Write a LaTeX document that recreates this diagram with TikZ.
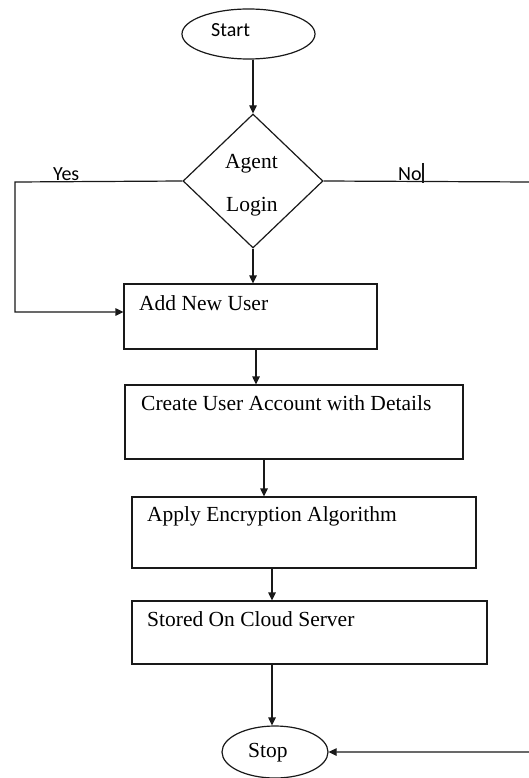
\documentclass[tikz,border=0pt]{standalone}
\usepackage{fontspec}
\setmainfont{Liberation Serif}
\newfontfamily\carlitofont{Carlito}
\usetikzlibrary{shapes.geometric,arrows.meta}
\begin{document}
\begin{tikzpicture}[x=1pt,y=-1pt,
  line/.style={line width=1.2pt, draw=black!90},
  arr/.style={line, -{Triangle[length=8pt,width=7.5pt]}},
  boxnode/.style={line, rectangle, inner sep=0pt},
  ovalnode/.style={line, ellipse, inner sep=0pt},
  dianode/.style={line, diamond, inner sep=0pt},
  serif/.style={font=\fontsize{21.5}{24}\selectfont, inner sep=0pt, anchor=base west},
  sans/.style={font=\carlitofont\fontsize{20}{24}\selectfont, inner sep=0pt, anchor=base west}]
\useasboundingbox[fill=white] (0,0) rectangle (528,778);

% shapes
\node[ovalnode, minimum width=133pt, minimum height=50pt] (start) at (248.5,34) {};
\node[dianode, minimum width=140pt, minimum height=134pt] (dia) at (253,181) {};
\node[boxnode, minimum width=253pt, minimum height=65pt] (b1) at (250.5,316.5) {};
\node[boxnode, minimum width=338pt, minimum height=74pt] (b2) at (294,422) {};
\node[boxnode, minimum width=344pt, minimum height=71pt] (b3) at (304,532.5) {};
\node[boxnode, minimum width=355pt, minimum height=63pt] (b4) at (309.5,632.5) {};
\node[ovalnode, minimum width=106pt, minimum height=52pt] (stop) at (275,752) {};

% texts
\node[sans] (tstart) at (211,37) {Start};
\node[serif] (tag) at (225,168) {Agent};
\node[serif] (tlo) at (226,211) {Login};
\node[sans] (tyes) at (53,180) {Yes};
\node[sans] (tno) at (398,180) {No};
\node[serif] (t1) at (139,310) {Add New User};
\node[serif] (t2) at (141,410) {Create User Account with Details};
\node[serif] (t3) at (147,521) {Apply Encryption Algorithm};
\node[serif] (t4) at (147,626) {Stored On Cloud Server};
\node[serif] (tstop) at (248,757) {Stop};
\draw[line] (423,163) -- (423,183);

% helper coordinates
\coordinate (yc) at (15,182);
\coordinate (nc) at (531,182);

% connectors
\draw[arr] (dia.north |- start.south) -- (dia.north);
\draw[arr] (dia.south) -- (dia.south |- b1.north);
\draw[arr] (dia.west) -- (yc) |- ([yshift=4.5pt]b1.west);
\draw[arr] (dia.east) -- (nc) |- (stop.east);
\draw[arr] ([xshift=5.5pt]b1.south) -- ([xshift=5.5pt]b1.south |- b2.north);
\draw[arr] ([xshift=-30pt]b2.south) -- ([xshift=-30pt]b2.south |- b3.north);
\draw[arr] ([xshift=-32pt]b3.south) -- ([xshift=-32pt]b3.south |- b4.north);
\draw[arr] ([xshift=-37.5pt]b4.south) -- ([xshift=-37.5pt]b4.south |- stop.north);
\end{tikzpicture}
\end{document}
